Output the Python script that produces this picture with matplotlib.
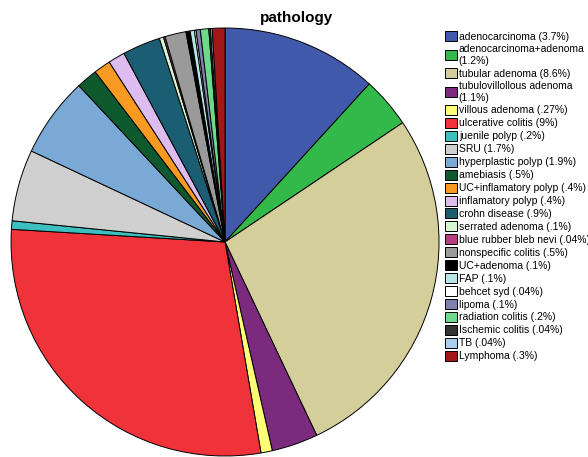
import matplotlib.pyplot as plt

plt.rcParams['font.family'] = ['Liberation Sans', 'DejaVu Sans']

labels = [
    "adenocarcinoma (3.7%)",
    "adenocarcinoma+adenoma\n(1.2%)",
    "tubular adenoma (8.6%)",
    "tubulovillollous adenoma\n(1.1%)",
    "villous adenoma (.27%)",
    "ulcerative colitis (9%)",
    "juenile polyp (.2%)",
    "SRU (1.7%)",
    "hyperplastic polyp (1.9%)",
    "amebiasis (.5%)",
    "UC+inflamatory polyp (.4%)",
    "inflamatory polyp (.4%)",
    "crohn disease (.9%)",
    "serrated adenoma (.1%)",
    "blue rubber bleb nevi (.04%)",
    "nonspecific colitis (.5%)",
    "UC+adenoma (.1%)",
    "FAP (.1%)",
    "behcet syd (.04%)",
    "lipoma (.1%)",
    "radiation colitis (.2%)",
    "Ischemic colitis (.04%)",
    "TB (.04%)",
    "Lymphoma (.3%)",
]
values = [3.7, 1.2, 8.6, 1.1, 0.27, 9, 0.2, 1.7, 1.9, 0.5, 0.4, 0.4, 0.9,
          0.1, 0.04, 0.5, 0.1, 0.1, 0.04, 0.1, 0.2, 0.04, 0.04, 0.3]
colors = ["#4159AA", "#33B84A", "#D4CE9A", "#7B2A7E", "#FFFF77", "#F0333A",
          "#3DBFBF", "#CFCFCF", "#7BA9D6", "#0E5A2E", "#F79A22", "#DDBDEF",
          "#1B5E74", "#D7F7D0", "#B83C80", "#9A9A9A", "#000000", "#B6E6E6",
          "#FFFFFF", "#8080B0", "#6FD98A", "#333333", "#A9CFEF", "#A01818"]

fig = plt.figure(figsize=(5.88, 4.57), dpi=100)
ax = fig.add_axes([0.0187, 0.0022, 0.728, 0.9365])
wedges, _ = ax.pie(values, colors=colors, startangle=90, counterclock=False,
                   wedgeprops=dict(edgecolor="black", linewidth=0.7))
for w in wedges:
    w.set_clip_on(False)
ax.set_xlim(-1, 1)
ax.set_ylim(-1, 1)
ax.set_aspect("equal")
ax.axis("off")

fig.suptitle("pathology", x=0.505, y=0.975, fontsize=11, fontweight="bold")

leg = fig.legend(wedges, labels, loc="upper left", bbox_to_anchor=(0.757, 0.932),
                 frameon=False, fontsize=7.5, handlelength=1.1, handleheight=1.1,
                 handletextpad=0.22, labelspacing=0.23, borderaxespad=0, borderpad=0)

fig.savefig("out.png", dpi=100)
